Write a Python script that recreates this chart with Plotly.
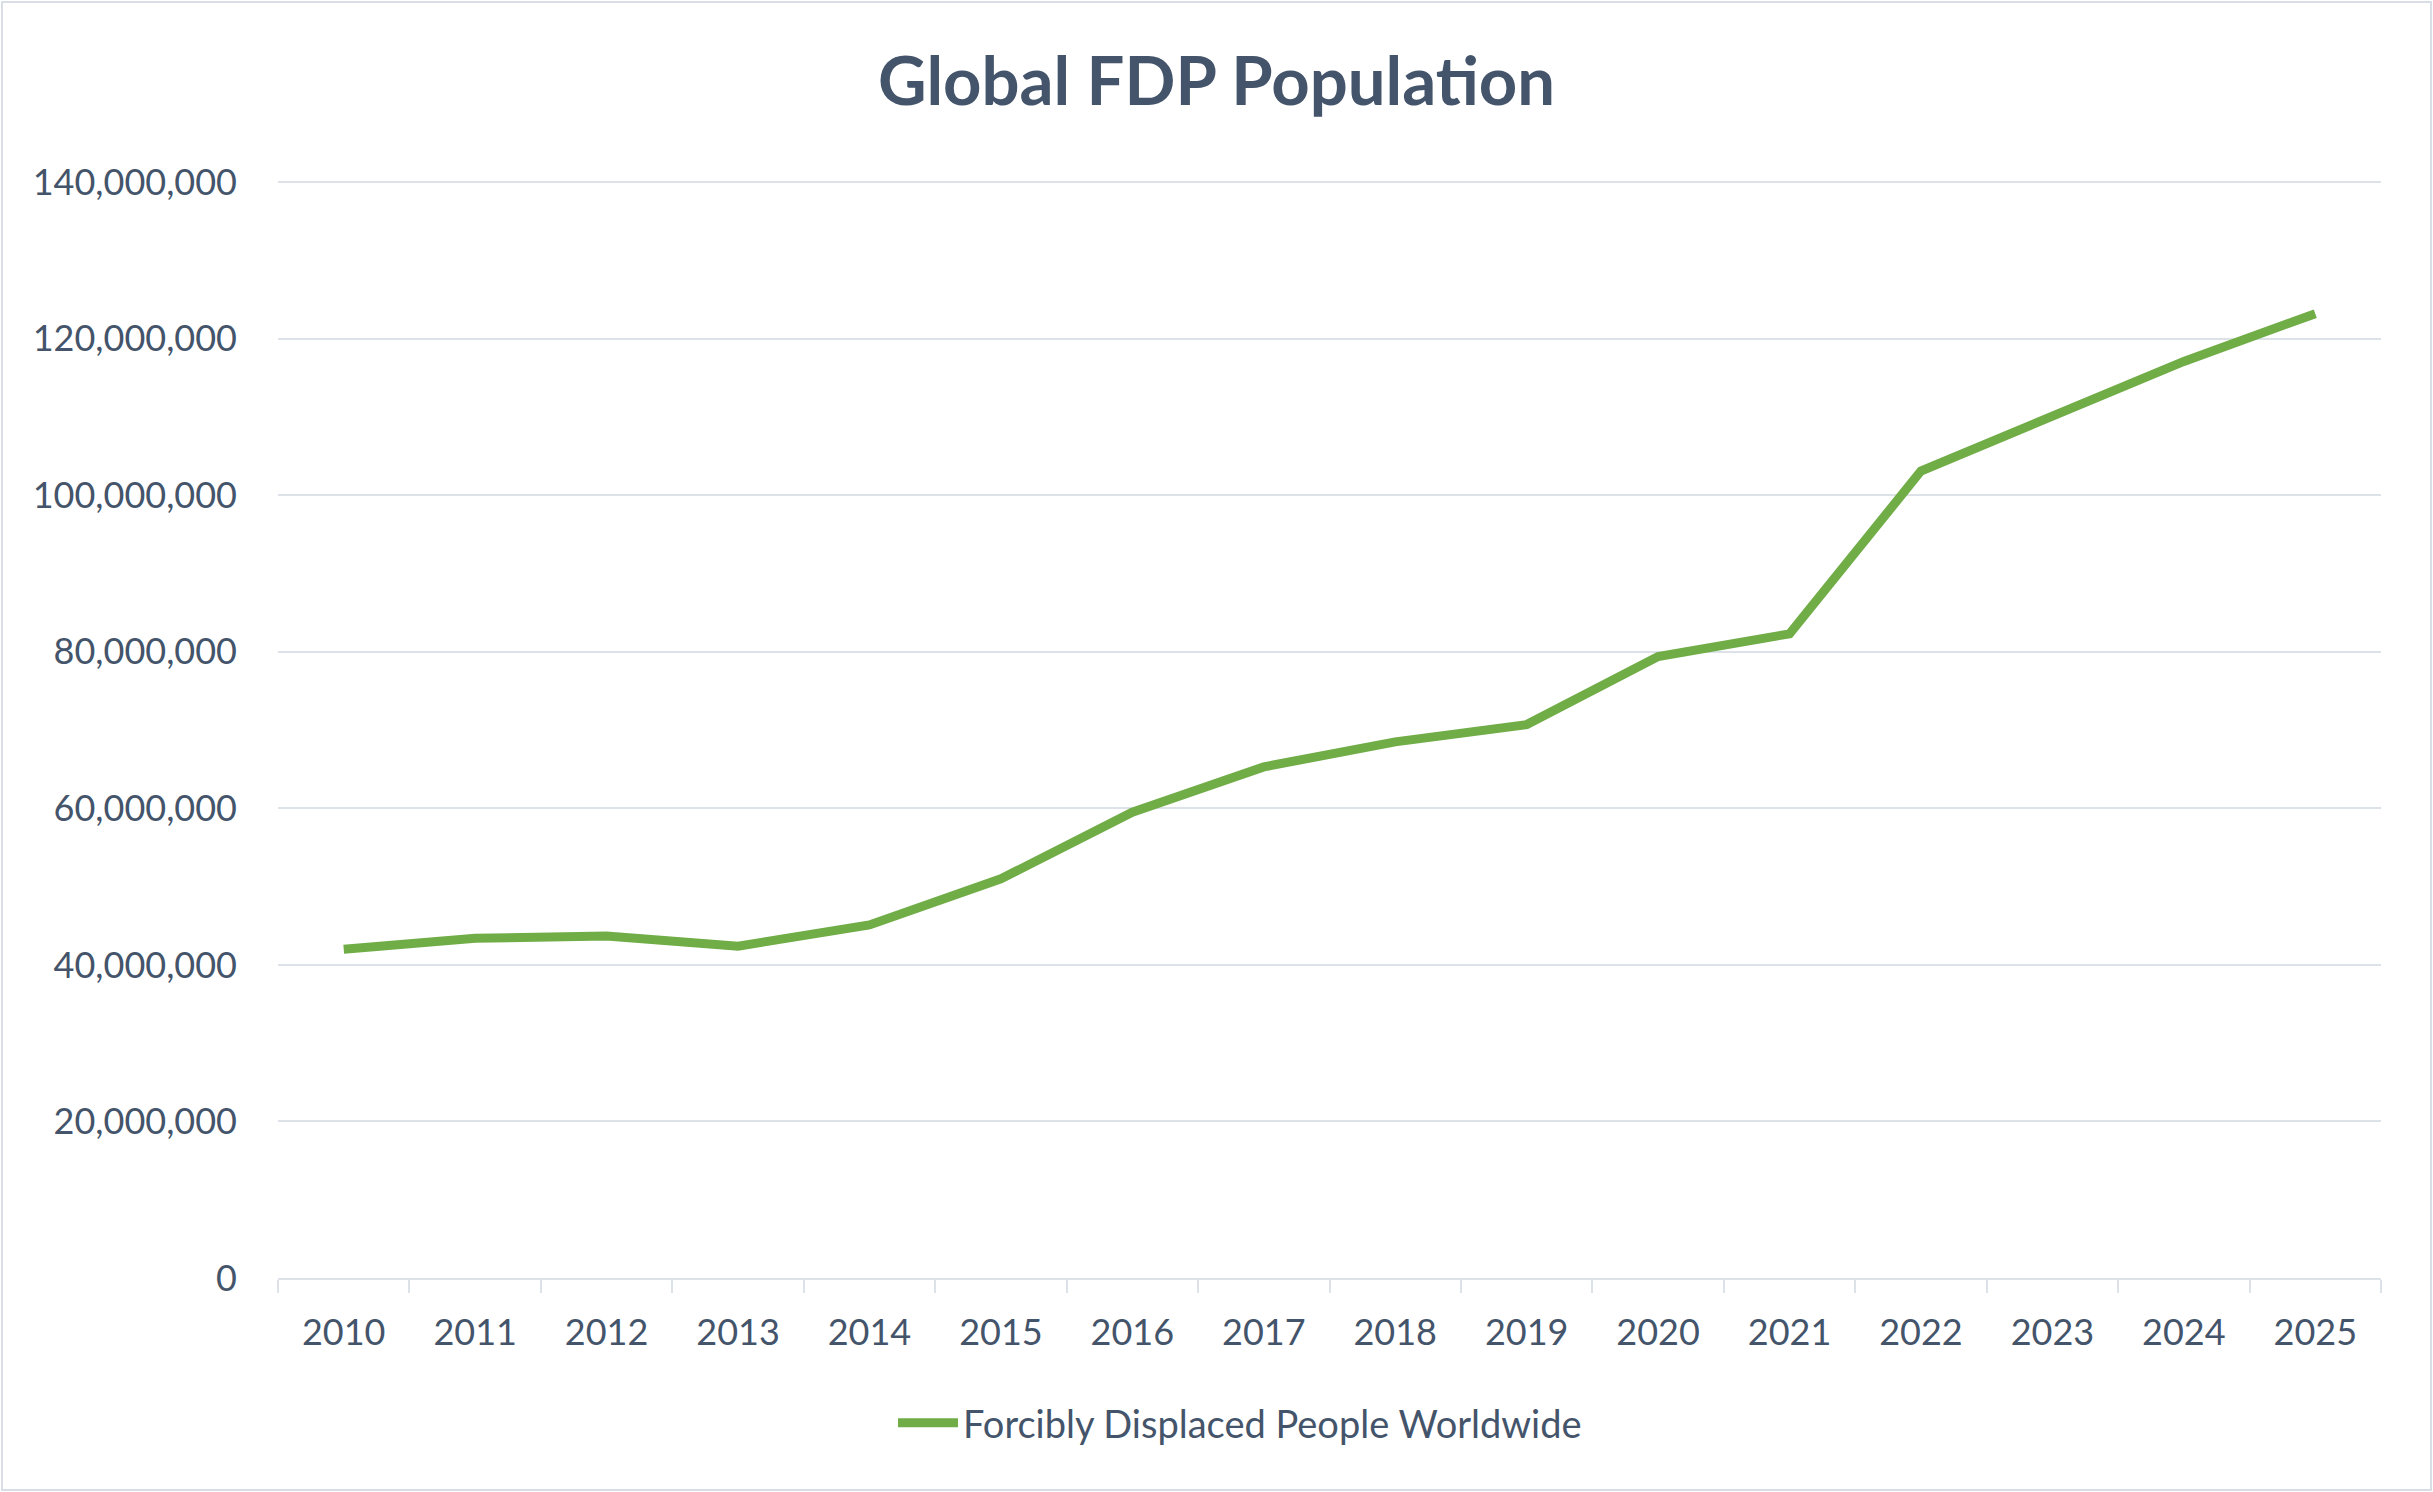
import plotly.graph_objects as go

# values
years = ["2010", "2011", "2012", "2013", "2014", "2015", "2016", "2017",
         "2018", "2019", "2020", "2021", "2022", "2023", "2024", "2025"]
fdp_people = [42_000_000, 43_400_000, 43_700_000, 42_400_000, 45_100_000,
              51_000_000, 59_500_000, 65_300_000, 68_500_000, 70_700_000,
              79_400_000, 82_300_000, 103_100_000, 110_100_000, 117_100_000,
              123_200_000]
series_name = "Forcibly Displaced People Worldwide"
chart_title = "Global FDP Population"

W, H = 2433, 1492
ML, MR, MT, MB = 278, 52, 181, 214
TEXT = "#44546A"
GRID = "#DDE1E8"
GREEN = "#70AD47"
FONT = "Lato"

fig = go.Figure()
fig.add_trace(go.Scatter(x=years, y=fdp_people, mode="lines", name=series_name,
                         line=dict(color=GREEN, width=9)))

pw, ph = W - ML - MR, H - MT - MB
# thin frame around the whole chart area
fig.add_shape(type="rect", xref="paper", yref="paper",
              x0=-(ML - 2) / pw, x1=1 + (MR - 2) / pw,
              y0=-(MB - 2) / ph, y1=1 + (MT - 2) / ph,
              line=dict(color="#D9DEE6", width=2), layer="below")

fig.update_layout(
    width=W, height=H,
    margin=dict(l=ML, r=MR, t=MT, b=MB, autoexpand=False),
    paper_bgcolor="white", plot_bgcolor="white",
    font=dict(family=FONT, color=TEXT, size=36),
    title=dict(text="<b>" + chart_title + "</b>", x=0.5, xanchor="center",
               y=1 - 82 / H, yanchor="middle", font=dict(size=67, color=TEXT)),
    showlegend=True,
    legend=dict(orientation="h", x=(1240 - ML) / pw, xanchor="center",
                y=-(1423 - (H - MB)) / ph, yanchor="middle",
                font=dict(size=38, color=TEXT), itemwidth=60),
    xaxis=dict(type="category", range=[-0.5, len(years) - 0.5], automargin=False,
               tickson="boundaries", ticks="outside", ticklen=13,
               tickwidth=2, tickcolor=GRID, showline=True, linecolor=GRID, linewidth=2,
               showgrid=False, tickfont=dict(size=36, color=TEXT), ticklabelstandoff=22),
    # top slightly above 140M so its gridline is still drawn
    yaxis=dict(range=[0, 140_150_000], dtick=20_000_000, tickformat=",d", automargin=False,
               showgrid=True, gridcolor=GRID, gridwidth=2, zeroline=False,
               showline=False, ticks="", tickfont=dict(size=36, color=TEXT),
               ticklabelstandoff=40),
)

# drop the page's default body margin so the chart sits flush in the window
fig.write_html("out.html", config={"displayModeBar": False},
               post_script="document.body.style.margin='0';")
